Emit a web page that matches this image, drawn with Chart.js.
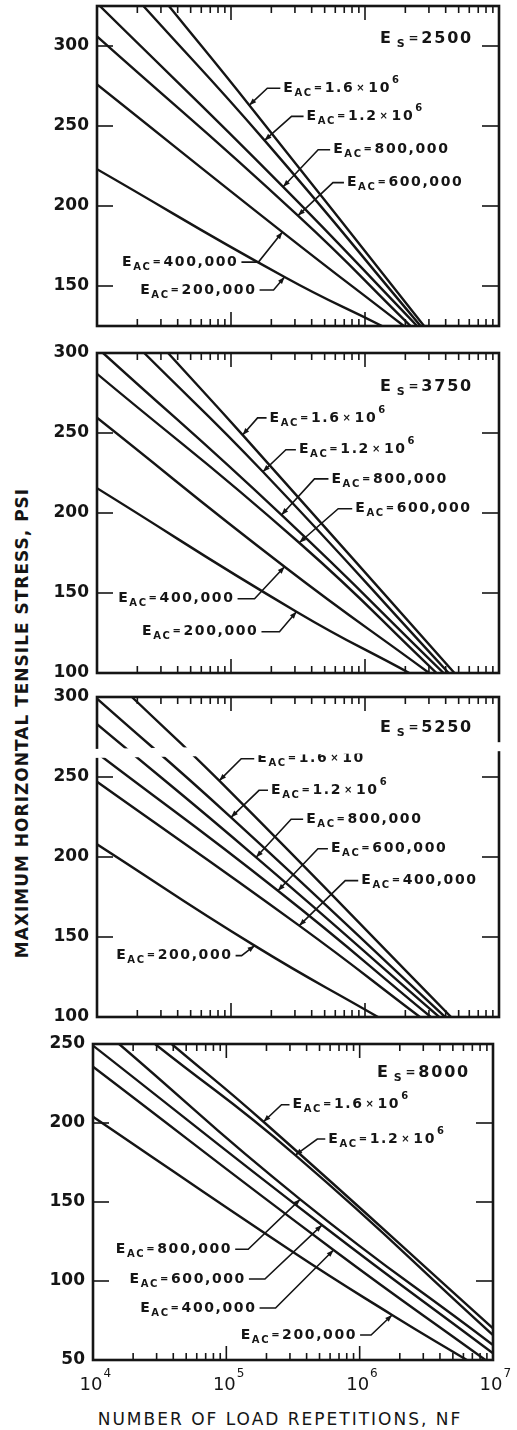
<!DOCTYPE html>
<html>
<head>
<meta charset="utf-8">
<script src="https://cdn.jsdelivr.net/npm/chart.js@4.4.1/dist/chart.umd.min.js"></script>
<style>
  html, body { margin: 0; padding: 0; background: #fff; }
  #page { position: relative; width: 517px; height: 1430px; overflow: hidden; background: #fff; }
  #page canvas { position: absolute; left: 0; }
  .ytitle { position: absolute; left: 22px; top: 723px; transform: translate(-50%, -50%) rotate(-90deg);
            white-space: nowrap; font: bold 17px "DejaVu Sans"; letter-spacing: 1px; color: #151515; }
  .xtitle { position: absolute; left: 280px; top: 1419px; transform: translate(-50%, -50%);
            white-space: nowrap; font: 17px "DejaVu Sans"; letter-spacing: 2px; color: #151515; }
</style>
</head>
<body>
<div id="page">
  <div class="ytitle">MAXIMUM HORIZONTAL TENSILE STRESS, PSI</div>
  <div class="xtitle">NUMBER OF LOAD REPETITIONS, NF</div>
</div>
<script>
// ---- data: [N, stress psi] ----
const X_MIN = 1e4, X_MAX = 1e7;
const xTickExps = [4, 5, 6, 7];
const acLabels = ['200,000', '400,000', '600,000', '800,000', '1.2×10^6', '1.6×10^6'];
const esValues = [2500, 3750, 5250, 8000];

// E_S = 2500
const ySpan2500 = [125, 325];
const yTicks2500 = [150, 200, 250, 300];
const es2500_ac200 = [[1e4, 223], [2.51e5, 155.6], [1.34e6, 125]];
const es2500_ac400 = [[1e4, 276], [2.42e5, 183.7], [1.95e6, 125]];
const es2500_ac600 = [[1e4, 306], [3.16e5, 194], [2.19e6, 125]];
const es2500_ac800 = [[1.05e4, 325], [2.45e5, 212], [2.45e6, 125]];
const es2500_ac1200 = [[2.22e4, 325], [1.78e5, 241], [2.6e6, 125]];
const es2500_ac1600 = [[3.44e4, 325], [1.37e5, 263], [2.76e6, 125]];

// E_S = 3750
const ySpan3750 = [100, 300];
const yTicks3750 = [100, 150, 200, 250, 300];
const es3750_ac200 = [[1e4, 215.5], [3.08e5, 138.3], [2.14e6, 100]];
const es3750_ac400 = [[1e4, 259.5], [2.51e5, 166.4], [3.01e6, 100]];
const es3750_ac600 = [[1e4, 287], [3.23e5, 181.4], [3.42e6, 100]];
const es3750_ac800 = [[1.11e4, 300], [2.38e5, 198.8], [3.86e6, 100]];
const es3750_ac1200 = [[2.25e4, 300], [1.73e5, 225.8], [4.21e6, 100]];
const es3750_ac1600 = [[3.39e4, 300], [1.22e5, 248.8], [4.65e6, 100]];

// E_S = 5250
const ySpan5250 = [100, 300];
const yTicks5250 = [100, 150, 200, 250, 300];
const es5250_ac200 = [[1e4, 208], [1.5e5, 144.6], [1.25e6, 100]];
const es5250_ac400 = [[1e4, 247], [3.23e5, 157.1], [2.57e6, 100]];
const es5250_ac600 = [[1e4, 265], [2.24e5, 178.9], [3.1e6, 100]];
const es5250_ac800 = [[1e4, 283], [1.54e5, 199.8], [3.58e6, 100]];
const es5250_ac1200 = [[1e4, 299], [1e5, 224.8], [3.96e6, 100]];
const es5250_ac1600 = [[1.82e4, 300], [8.17e4, 247.7], [4.39e6, 100]];

// E_S = 8000
const ySpan8000 = [50, 250];
const yTicks8000 = [50, 100, 150, 200, 250];
const es8000_ac200 = [[1e4, 204], [3.0e5, 119.6], [1.75e6, 78.5], [6.37e6, 50]];
const es8000_ac400 = [[1e4, 235.6], [6.37e5, 119.6], [8.77e6, 50]];
const es8000_ac600 = [[1e4, 249], [5.21e5, 135.4], [1e7, 54.2]];
const es8000_ac800 = [[1.57e4, 250], [3.58e5, 151.7], [1e7, 59.5]];
const es8000_ac1200 = [[2.92e4, 250], [3.29e5, 179.7], [1e7, 65.8]];
const es8000_ac1600 = [[3.89e4, 250], [1.9e5, 200.8], [1e7, 70]];

// ---- layout / style ----
const INK = '#151515';
const FAMILY = '"DejaVu Sans", "Liberation Sans", sans-serif';

// callout leaders, one per curve (200k..1.6M): offset of the elbow from the arrow tip,
// length of the horizontal run, side of the text
const panels = [
  { es: esValues[0], span: ySpan2500, yTicks: yTicks2500,
    area: { left: 97, right: 499, top: 6, bottom: 326 }, bottomPad: 30, esPos: { r: 26, t: 33 },
    curves: [es2500_ac200, es2500_ac400, es2500_ac600, es2500_ac800, es2500_ac1200, es2500_ac1600],
    callouts: [
      { dx: -11, dy: 13, len: 16, side: -1 }, { dx: -24, dy: 30, len: 19, side: -1 },
      { dx: 35, dy: -33, len: 13, side: 1 }, { dx: 35, dy: -37, len: 14, side: 1 },
      { dx: 27, dy: -24, len: 14, side: 1 }, { dx: 18, dy: -17, len: 15, side: 1 } ] },
  { es: esValues[1], span: ySpan3750, yTicks: yTicks3750,
    area: { left: 97, right: 499, top: 353, bottom: 673 }, bottomPad: 30, esPos: { r: 26, t: 34 },
    curves: [es3750_ac200, es3750_ac400, es3750_ac600, es3750_ac800, es3750_ac1200, es3750_ac1600],
    callouts: [
      { dx: -17, dy: 20, len: 20, side: -1 }, { dx: -30, dy: 32, len: 19, side: -1 },
      { dx: 39, dy: -34, len: 16, side: 1 }, { dx: 33, dy: -36, len: 16, side: 1 },
      { dx: 23, dy: -22, len: 12, side: 1 }, { dx: 15, dy: -17, len: 11, side: 1 } ] },
  { es: esValues[2], span: ySpan5250, yTicks: yTicks5250,
    area: { left: 97, right: 499, top: 697, bottom: 1017 }, bottomPad: 30, esPos: { r: 26, t: 31 },
    band: true,
    curves: [es5250_ac200, es5250_ac400, es5250_ac600, es5250_ac800, es5250_ac1200, es5250_ac1600],
    callouts: [
      { dx: -13, dy: 10, len: 8, side: -1 }, { dx: 46, dy: -45, len: 15, side: 1 },
      { dx: 40, dy: -42, len: 12, side: 1 }, { dx: 35, dy: -38, len: 14, side: 1 },
      { dx: 28, dy: -27, len: 11, side: 1 }, { dx: 22, dy: -22, len: 15, side: 1 } ] },
  { es: esValues[3], span: ySpan8000, yTicks: yTicks8000,
    area: { left: 93, right: 493, top: 1044, bottom: 1360 }, bottomPad: 70, esPos: { r: 23, t: 29 },
    xLabels: true,
    curves: [es8000_ac200, es8000_ac400, es8000_ac600, es8000_ac800, es8000_ac1200, es8000_ac1600],
    callouts: [
      { dx: -21, dy: 20, len: 13, side: -1, tip: 2 }, { dx: -58, dy: 58, len: 18, side: -1 },
      { dx: -57, dy: 54, len: 18, side: -1 }, { dx: -52, dy: 50, len: 15, side: -1 },
      { dx: 22, dy: -16, len: 10, side: 1 }, { dx: 18, dy: -17, len: 10, side: 1 } ] }
];

// ---- text helpers (manual letter spacing, sub/superscripts) ----
function partsFor(value) {
  const parts = [{ s: 'E', size: 14 }, { s: 'AC', size: 10, dy: 5 }, { s: '=', size: 10, padL: 1, padR: 1 }];
  if (value.includes('^')) {
    const [base, exp] = value.split('^');
    const [mant, ten] = base.split('×');
    parts.push({ s: mant, size: 14 }, { s: '×', size: 10, padL: 2, padR: 2 }, { s: ten, size: 14 },
               { s: exp, size: 10, dy: -8, padL: 1 });
  } else {
    parts.push({ s: value, size: 14 });
  }
  return parts;
}

function runParts(ctx, parts, x, y, spacing, draw) {
  let w = 0;
  for (const p of parts) {
    ctx.font = 'bold ' + p.size + 'px ' + FAMILY;
    w += p.padL || 0;
    for (const ch of p.s) {
      if (draw) ctx.fillText(ch, x + w, y + (p.dy || 0));
      w += ctx.measureText(ch).width + spacing;
    }
    w += p.padR || 0;
  }
  return w;
}

function line(ctx, x1, y1, x2, y2) {
  ctx.beginPath(); ctx.moveTo(x1, y1); ctx.lineTo(x2, y2); ctx.stroke();
}

function arrowhead(ctx, fx, fy, tx, ty) {
  const d = Math.hypot(tx - fx, ty - fy), ux = (tx - fx) / d, uy = (ty - fy) / d;
  const bx = tx - ux * 7, by = ty - uy * 7;
  ctx.beginPath();
  ctx.moveTo(tx, ty);
  ctx.lineTo(bx - uy * 2.6, by + ux * 2.6);
  ctx.lineTo(bx + uy * 2.6, by - ux * 2.6);
  ctx.closePath(); ctx.fill();
}

function makeDecor(p) {
  return {
    id: 'decor',
    afterDraw(chart) {
      const { ctx, chartArea: a } = chart;
      const x = chart.scales.x, y = chart.scales.y;
      ctx.save();
      ctx.strokeStyle = INK; ctx.fillStyle = INK; ctx.lineCap = 'butt';

      // frame
      ctx.lineWidth = 2.6;
      ctx.strokeRect(a.left, a.top, a.right - a.left, a.bottom - a.top);

      // inward log ticks top and bottom
      ctx.lineWidth = 1.6;
      for (let e = 4; e < 7; e++) {
        for (let m = 1; m <= 9; m++) {
          const v = m * Math.pow(10, e);
          if (v <= X_MIN) continue;
          const px = x.getPixelForValue(v);
          const len = m === 1 ? 14 : 7;
          line(ctx, px, a.bottom, px, a.bottom - len);
          line(ctx, px, a.top, px, a.top + len);
        }
      }
      // inward stress ticks left and right
      for (const v of p.yTicks) {
        if (v <= p.span[0] || v >= p.span[1]) continue;
        const py = y.getPixelForValue(v);
        line(ctx, a.left, py, a.left + 16, py);
        line(ctx, a.right, py, a.right - 17, py);
      }

      // callouts
      ctx.textBaseline = 'middle'; ctx.textAlign = 'left';
      p.curves.forEach((pts, i) => {
        const c = p.callouts[i];
        const tp = pts[c.tip || 1];
        const tx = x.getPixelForValue(tp[0]), ty = y.getPixelForValue(tp[1]);
        const ex = tx + c.dx, ey = ty + c.dy;
        const lx = ex + c.side * c.len;
        ctx.lineWidth = 1.6;
        ctx.beginPath(); ctx.moveTo(tx, ty); ctx.lineTo(ex, ey); ctx.lineTo(lx - c.side * 2, ey); ctx.stroke();
        arrowhead(ctx, ex, ey, tx, ty);
        const parts = partsFor(acLabels[i]);
        const w = runParts(ctx, parts, 0, 0, 1.6, false);
        runParts(ctx, parts, c.side > 0 ? lx + 1 : lx - 1 - w, ey, 1.6, true);
      });

      // E_S label
      const esParts = [{ s: 'E', size: 16 }, { s: 'S', size: 11, dy: 5, padL: 4 },
                       { s: '=', size: 12, padL: 2, padR: 1 }, { s: String(p.es), size: 16 }];
      const ew = runParts(ctx, esParts, 0, 0, 1.8, false);
      runParts(ctx, esParts, a.right - p.esPos.r - ew, a.top + p.esPos.t, 1.8, true);

      // decade labels under the last panel
      if (p.xLabels) {
        ctx.textBaseline = 'alphabetic';
        for (const e of xTickExps) {
          const px = x.getPixelForValue(Math.pow(10, e));
          ctx.font = '18px ' + FAMILY;
          const w10 = ctx.measureText('10').width;
          ctx.textAlign = 'center';
          ctx.fillText('10', px - 2, a.bottom + 30);
          ctx.textAlign = 'left';
          ctx.font = '12px ' + FAMILY;
          ctx.fillText(String(e), px - 2 + w10 / 2 + 1, a.bottom + 17);
        }
      }

      // white scan streak across the 5250 panel
      if (p.band) {
        ctx.fillStyle = '#fff';
        ctx.beginPath();
        ctx.moveTo(a.left - 7, a.top + 52);
        ctx.lineTo(a.right + 11, a.top + 45);
        ctx.lineTo(a.right + 11, a.top + 54);
        ctx.lineTo(a.left - 7, a.top + 61);
        ctx.closePath(); ctx.fill();
      }
      ctx.restore();
    }
  };
}

function buildPanel(p) {
  const canvas = document.createElement('canvas');
  const top = p.area.top - 30;
  const h = (p.area.bottom - p.area.top) + 30 + p.bottomPad;
  canvas.width = 517; canvas.height = h;
  canvas.style.top = top + 'px';
  canvas.style.width = '517px'; canvas.style.height = h + 'px';
  document.getElementById('page').appendChild(canvas);

  new Chart(canvas, {
    type: 'line',
    data: {
      datasets: p.curves.map(pts => ({
        data: pts.map(([n, s]) => ({ x: n, y: s })),
        borderColor: INK, borderWidth: 2.4, pointRadius: 0, fill: false,
        tension: 0.5
      }))
    },
    options: {
      responsive: false, animation: false, events: [],
      layout: { padding: { top: 30, bottom: p.bottomPad, left: 0, right: 517 - p.area.right } },
      plugins: { legend: { display: false }, tooltip: { enabled: false } },
      scales: {
        x: { type: 'logarithmic', min: X_MIN, max: X_MAX,
             grid: { display: false, drawTicks: false }, border: { display: false }, ticks: { display: false },
             afterFit: s => { s.height = 0; } },
        y: { type: 'linear', min: p.span[0], max: p.span[1],
             grid: { display: false, drawTicks: false }, border: { display: false },
             afterBuildTicks: s => { s.ticks = p.yTicks.map(v => ({ value: v })); },
             ticks: { color: INK, padding: 8, font: { family: FAMILY, size: 17, weight: 'bold' } },
             afterFit: s => { s.width = p.area.left; } }
      }
    },
    plugins: [makeDecor(p)]
  });
}

panels.forEach(buildPanel);
</script>
</body>
</html>
